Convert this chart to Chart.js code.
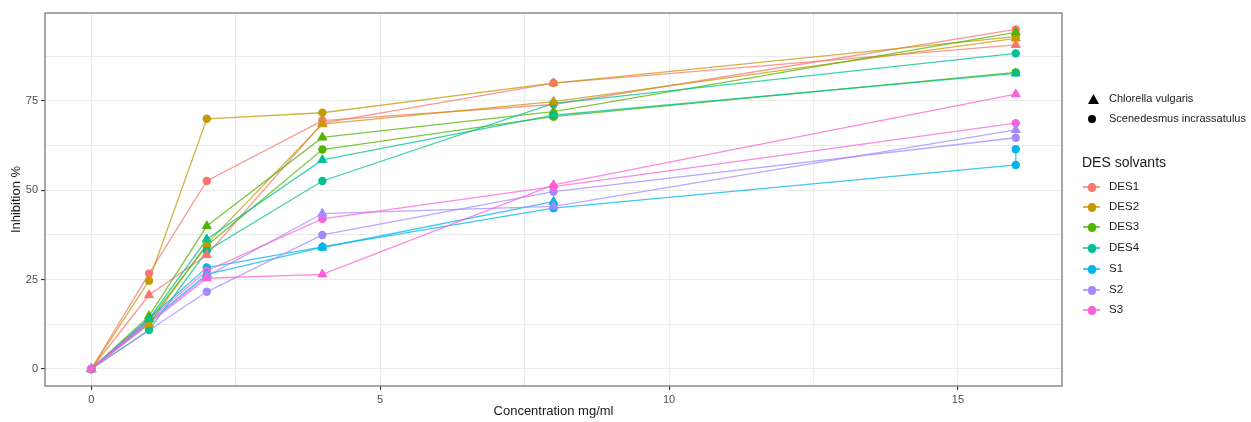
<!DOCTYPE html>
<html><head><meta charset="utf-8">
<script src="https://cdn.jsdelivr.net/npm/chart.js@4.4.0/dist/chart.umd.min.js"></script>
<style>
html,body{margin:0;padding:0;background:#fff;}
#wrap{position:relative;width:1251px;height:422px;overflow:hidden;}
canvas{position:absolute;left:0;top:0;}
.lg{position:absolute;font-family:"Liberation Sans",Arial,sans-serif;color:#1a1a1a;white-space:nowrap;line-height:1;}
.tri{position:absolute;width:11px;height:10px;background:#000;clip-path:polygon(50% 0,100% 100%,0 100%);}
.dot{position:absolute;border-radius:50%;}
.seg{position:absolute;height:1.5px;}
</style></head><body>
<div id="wrap"><canvas id="c" width="1251" height="422"></canvas><div id="legend"></div></div>
<script>
// Concentrations (mg/ml)
const concDES = [0, 1, 2, 4, 8, 16];
const concS   = [0, 2, 4, 8, 16];
// Inhibition % — Cv = Chlorella vulgaris (triangle), Si = Scenedesmus incrassatulus (circle)
const DES1_Cv = [0, 20.7, 31.9, 68.8, 80.0, 90.7];
const DES1_Si = [0, 26.7, 52.6, 69.5, 74.0, 95.0];
const DES2_Cv = [0, 12.5, 35.0, 68.5, 74.8, 92.5];
const DES2_Si = [0, 24.7, 70.0, 71.7, 80.0, 93.0];
const DES3_Cv = [0, 14.8, 40.0, 64.8, 72.0, 94.2];
const DES3_Si = [0, 13.5, 34.5, 61.4, 70.6, 83.0];
const DES4_Cv = [0, 14.0, 36.3, 58.5, 71.0, 82.7];
const DES4_Si = [0, 10.9, 33.0, 52.6, 74.3, 88.3];
const S1_Cv_x = [0, 2, 4, 8];
const S1_Cv   = [0, 26.5, 34.0, 46.8];
const S1_Si_x = [0, 2, 4, 8, 16, 16];
const S1_Si   = [0, 28.4, 34.2, 45.0, 57.1, 61.5];
const S2_Cv = [0, 26.0, 43.5, 45.5, 66.9];
const S2_Si = [0, 21.6, 37.5, 49.6, 64.7];
const S3_Cv = [0, 25.4, 26.5, 51.5, 76.9];
const S3_Si = [0, 27.5, 42.0, 51.0, 68.8];

const solventNames = ['DES1','DES2','DES3','DES4','S1','S2','S3'];
const speciesNames = ['Chlorella vulgaris','Scenedesmus incrassatulus'];
const xTicks = [0, 5, 10, 15];
const yTicks = [0, 25, 50, 75];

const colors = ['#F8766D','#C49A00','#53B400','#00C094','#00B6EB','#A58AFF','#FB61D7'];
const series = [
  {cv:[concDES, DES1_Cv], si:[concDES, DES1_Si]},
  {cv:[concDES, DES2_Cv], si:[concDES, DES2_Si]},
  {cv:[concDES, DES3_Cv], si:[concDES, DES3_Si]},
  {cv:[concDES, DES4_Cv], si:[concDES, DES4_Si]},
  {cv:[S1_Cv_x, S1_Cv],   si:[S1_Si_x, S1_Si]},
  {cv:[concS, S2_Cv],     si:[concS, S2_Si]},
  {cv:[concS, S3_Cv],     si:[concS, S3_Si]}
];
function pts(pair){ return pair[0].map((x,i)=>({x:x, y:pair[1][i]})); }
function rgba(hex,a){ const n=parseInt(hex.slice(1),16); return `rgba(${n>>16},${(n>>8)&255},${n&255},${a})`; }

const datasets = [];
// triangles on top, then circles, S3 first so it is drawn last within each group
for (let k = series.length-1; k >= 0; k--) {
  const s = series[k], c = colors[k];
  datasets.push({label:solventNames[k]+' Cv', data:pts(s.cv), showLine:false, pointStyle:'triangle',
    pointRadius:5.2, backgroundColor:c, borderColor:c, borderWidth:1, order:0});
  datasets.push({label:solventNames[k]+' Si', data:pts(s.si), showLine:false, pointStyle:'circle',
    pointRadius:4.2, backgroundColor:c, borderColor:c, borderWidth:0, order:1});
}
// lines (behind)
for (let k = series.length-1; k >= 0; k--) {
  const s = series[k], c = colors[k];
  ['cv','si'].forEach(sp=>{
    datasets.push({label:solventNames[k]+' '+sp+' line', data:pts(s[sp]), showLine:true, pointRadius:0,
      borderColor:rgba(c,0.75), borderWidth:1.3, tension:0, fill:false, order:2});
  });
}

const borderPlugin = {
  id:'panelBorder',
  afterDraw(chart){
    const a = chart.chartArea, ctx = chart.ctx;
    ctx.save(); ctx.strokeStyle = '#7a7a7a'; ctx.lineWidth = 1.3;
    ctx.strokeRect(a.left, a.top, a.right-a.left, a.bottom-a.top);
    ctx.restore();
  }
};
const FONT = '"Liberation Sans", Arial, sans-serif';
function isMajor(v, list){ return list.some(t=>Math.abs(t-v)<1e-9); }

new Chart(document.getElementById('c'), {
  type:'scatter',
  data:{datasets},
  options:{
    responsive:false, animation:false, devicePixelRatio:1,
    layout:{padding:{left:9, right:189, top:13, bottom:3}},
    plugins:{legend:{display:false}, tooltip:{enabled:false}},
    scales:{
      x:{
        type:'linear', min:-0.8, max:16.8,
        afterBuildTicks(s){ s.ticks = [0,2.5,5,7.5,10,12.5,15].map(v=>({value:v})); },
        afterFit(s){ s.height = 33; },
        ticks:{ autoSkip:false, maxRotation:0, padding:3, color:'#4D4D4D', font:{family:FONT, size:11},
          callback:(v)=> isMajor(v, xTicks) ? String(v) : '' },
        grid:{ color:'#EBEBEB', lineWidth:1.1, drawTicks:true, tickLength:4,
          tickColor:(c)=> (c.tick && isMajor(c.tick.value, xTicks)) ? '#333333' : 'rgba(0,0,0,0)' },
        border:{display:false},
        title:{display:true, text:'Concentration mg/ml', color:'#1a1a1a', font:{family:FONT, size:13}, padding:{top:0,bottom:0}}
      },
      y:{
        type:'linear', min:-4.75, max:99.6,
        afterBuildTicks(s){ s.ticks = [0,12.5,25,37.5,50,62.5,75,87.5].map(v=>({value:v})); },
        afterFit(s){ s.width = 36; },
        ticks:{ autoSkip:false, padding:3, color:'#4D4D4D', font:{family:FONT, size:11},
          callback:(v)=> isMajor(v, yTicks) ? String(v) : '' },
        grid:{ color:'#EBEBEB', lineWidth:1.1, drawTicks:true, tickLength:4,
          tickColor:(c)=> (c.tick && isMajor(c.tick.value, yTicks)) ? '#333333' : 'rgba(0,0,0,0)' },
        border:{display:false},
        title:{display:true, text:'Inhibition %', color:'#1a1a1a', font:{family:FONT, size:13}, padding:{top:0,bottom:0}}
      }
    }
  },
  plugins:[borderPlugin]
});

// Legend (HTML text)
const lg = document.getElementById('legend');
function add(html){ lg.insertAdjacentHTML('beforeend', html); }
add(`<div class="tri" style="left:1088px;top:94px"></div>`);
add(`<div class="lg" style="left:1109px;top:93px;font-size:11px">${speciesNames[0]}</div>`);
add(`<div class="dot" style="left:1088px;top:115px;width:8px;height:8px;background:#000"></div>`);
add(`<div class="lg" style="left:1109px;top:113px;font-size:11px">${speciesNames[1]}</div>`);
add(`<div class="lg" style="left:1082px;top:155px;font-size:14px">DES solvants</div>`);
const itemY = [187, 207, 227, 248, 269, 290, 310];
solventNames.forEach((n,i)=>{
  const y = itemY[i], c = colors[i];
  add(`<div class="seg" style="left:1083px;top:${y-1}px;width:17px;background:${rgba(c,0.75)}"></div>`);
  add(`<div class="dot" style="left:1087.5px;top:${y-4}px;width:8.5px;height:8.5px;background:${c}"></div>`);
  add(`<div class="lg" style="left:1109px;top:${y-6}px;font-size:11.5px">${n}</div>`);
});
</script>
</body></html>
